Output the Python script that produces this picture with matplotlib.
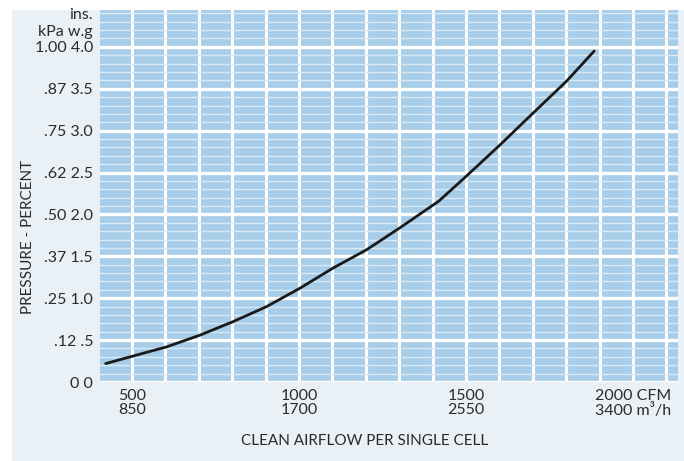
import matplotlib.pyplot as plt
from matplotlib.patches import Rectangle
from matplotlib.ticker import MultipleLocator
import numpy as np

# --- data ---
cfm = [421, 604, 704, 802, 903, 1003, 1102, 1203, 1302, 1419, 1502, 1602, 1701, 1801, 1884]
pressure_in = [0.22, 0.42, 0.56, 0.72, 0.90, 1.12, 1.36, 1.58, 1.84, 2.16, 2.46, 2.83, 3.21, 3.59, 3.95]

x_ticks = [500, 1000, 1500, 2000]
x_labels = ['500\n850', '1000\n1700', '1500\n2550', '2000 CFM\n3400 m³/h']
y_ticks = [0, 0.5, 1.0, 1.5, 2.0, 2.5, 3.0, 3.5, 4.0]
y_labels = ['0 0', '.12 .5', '.25 1.0', '.37 1.5', '.50 2.0', '.62 2.5', '.75 3.0', '.87 3.5', '1.00 4.0']

plt.rcParams['font.family'] = ['Lato', 'DejaVu Sans']
TXT = '#2b2b2b'
PANEL = '#e9f1f7'
CELL = '#a7cde8'

W, H = 684, 461
fig = plt.figure(figsize=(W / 100, H / 100), dpi=100, facecolor='white')
fig.patches.append(Rectangle((12 / W, 0), 1 - 12 / W, 1 - 10 / H, transform=fig.transFigure,
                             facecolor=PANEL, edgecolor='none', zorder=-10))

ax = fig.add_axes([100 / W, 1 - 382 / H, 578 / W, 372 / H], facecolor=CELL)
ax.set_xlim(404, 2135)
ax.set_ylim(0, 4.44)

# grid: thick white lines every 100 CFM / 0.5 in, thin lines every 0.1 in
ax.xaxis.set_minor_locator(MultipleLocator(100))
ax.yaxis.set_minor_locator(MultipleLocator(0.1))
ax.grid(which='minor', axis='x', color='white', linewidth=2.2)
ax.grid(which='minor', axis='y', color='#d8eaf6', linewidth=1.0)
ax.grid(which='major', axis='y', color='white', linewidth=2.4)
ax.grid(which='major', axis='x', color='white', linewidth=2.2)
ax.set_axisbelow(True)

ax.plot(cfm, pressure_in, color='#1a1a1a', linewidth=2.0, solid_capstyle='round',
        solid_joinstyle='round', zorder=5)

ax.set_xticks(x_ticks)
ax.set_xticklabels(x_labels, fontsize=11.5, color=TXT, linespacing=1.0)
ax.set_yticks(y_ticks)
ax.set_yticklabels(y_labels, fontsize=11.5, color=TXT)
ax.tick_params(length=0, which='both')
ax.tick_params(axis='x', pad=5)
ax.tick_params(axis='y', pad=5)
for s in ax.spines.values():
    s.set_visible(False)

fig.text(93 / W, 1 - 15 / H, 'ins.', ha='right', va='center', fontsize=11.5, color=TXT)
fig.text(93 / W, 1 - 32 / H, 'kPa w.g', ha='right', va='center', fontsize=11.5, color=TXT)
fig.text(28 / W, 1 - 237 / H, 'PRESSURE - PERCENT', rotation=90, ha='center', va='center',
         fontsize=11, color=TXT)
fig.text(365 / W, 1 - 441 / H, 'CLEAN AIRFLOW PER SINGLE CELL', ha='center', va='center',
         fontsize=11, color=TXT)

fig.savefig('out.png', dpi=100)
